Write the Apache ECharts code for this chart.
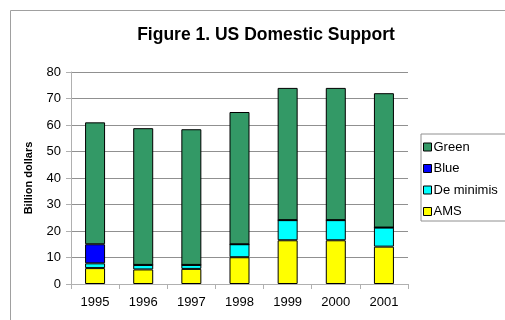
<!DOCTYPE html>
<html>
<head>
<meta charset="utf-8">
<script src="https://cdn.jsdelivr.net/npm/echarts@6/dist/echarts.min.js"></script>
<style>html,body{margin:0;padding:0;background:#fff;}#c{width:505px;height:320px;}</style>
</head>
<body>
<div id="c"></div>
<script>
var categories = ['1995','1996','1997','1998','1999','2000','2001'];
var ams = [6.0, 5.5, 5.7, 10.1, 16.5, 16.5, 14.1];
var deMinimis = [1.8, 1.7, 1.5, 4.9, 7.6, 7.6, 7.2];
var blue = [7.2, 0, 0, 0, 0, 0, 0];
var green = [46.0, 51.6, 51.2, 49.9, 49.9, 49.9, 50.7];
var yTicks = [0, 10, 20, 30, 40, 50, 60, 70, 80];

var chart = echarts.init(document.getElementById('c'));
function bar(name, data, color) {
  return {
    name: name, type: 'bar', stack: 'total', data: data, barWidth: 20,
    itemStyle: { color: color, borderColor: '#000', borderWidth: 1 },
    emphasis: { disabled: true }
  };
}
chart.setOption({
  animation: false,
  textStyle: { fontFamily: 'Liberation Sans, Arial, sans-serif' },
  graphic: [{
    type: 'rect', shape: { x: 10.5, y: 10.5, width: 600, height: 400 },
    style: { fill: 'none', stroke: '#a0a0a0', lineWidth: 1 }, silent: true
  }],
  title: {
    text: 'Figure 1. US Domestic Support', left: 261, top: 21, textAlign: 'center',
    textStyle: { fontSize: 17.5, fontWeight: 'bold', color: '#000', fontFamily: 'Liberation Sans, Arial, sans-serif' }
  },
  legend: {
    data: ['Green', 'Blue', 'De minimis', 'AMS'],
    orient: 'vertical', left: 421, top: 134,
    padding: [6.5, 30, 3, 2], itemGap: 8.5,
    itemWidth: 8, itemHeight: 8, icon: 'rect',
    borderColor: '#909090', borderWidth: 1,
    textStyle: { fontSize: 13, color: '#000', padding: [0, 0, 0, -3] },
    itemStyle: { borderColor: '#000', borderWidth: 1 }
  },
  grid: { left: 71, top: 72, width: 337, height: 212, containLabel: false },
  xAxis: {
    type: 'category', data: categories,
    axisLine: { lineStyle: { color: '#b0b0b0' } },
    axisTick: { show: true, length: 5, lineStyle: { color: '#b0b0b0' } },
    axisLabel: { fontSize: 13, color: '#000', margin: 12 }
  },
  yAxis: {
    type: 'value', min: 0, max: 80, interval: 10,
    name: 'Billion dollars', nameLocation: 'middle', nameGap: 37, nameRotate: 90,
    nameTextStyle: { fontSize: 11, fontWeight: 'bold', color: '#000' },
    axisLine: { show: true, lineStyle: { color: '#b0b0b0' } },
    axisTick: { show: true, length: 5, lineStyle: { color: '#b0b0b0' } },
    axisLabel: { fontSize: 13, color: '#000', margin: 10,
      formatter: function (v) { return yTicks.indexOf(v) >= 0 ? String(v) : ''; } },
    splitLine: { lineStyle: { color: '#909090', width: 1 } }
  },
  series: [
    bar('AMS', ams, '#FFFF00'),
    bar('De minimis', deMinimis, '#00FFFF'),
    bar('Blue', blue, '#0000FF'),
    bar('Green', green, '#339966')
  ]
});
</script>
</body>
</html>
